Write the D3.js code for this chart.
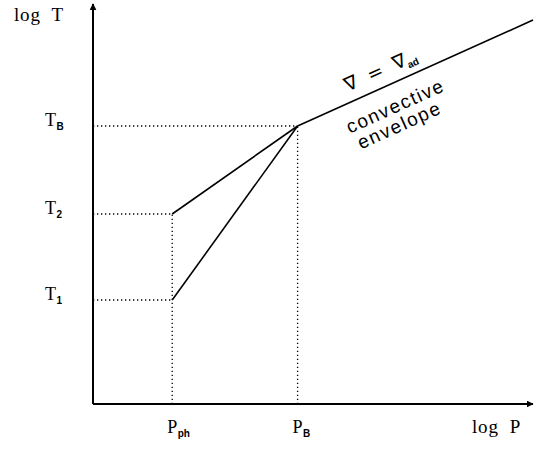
<!DOCTYPE html>
<html>
<head>
<meta charset="utf-8">
<script src="https://cdn.jsdelivr.net/npm/d3@7"></script>
<style>
  body { margin: 0; background: #fff; }
  text { fill: #000; }
  .serif { font-family: "Liberation Serif", "DejaVu Serif", serif; }
  .sans { font-family: "Liberation Sans", Arial, sans-serif; }
</style>
</head>
<body>
<div id="chart"></div>
<script>
// schematic values, in arbitrary log units
var tNames = ["B", "2", "1"];
var tValues = [6.95, 4.75, 2.6];
var pNames = ["ph", "B"];
var pValues = [1.8, 4.65];
// photosphere (P_ph, T) -> base of envelope (P_B, T_B)
var radiative1 = [[1.8, 2.6], [4.65, 6.95]];
var radiative2 = [[1.8, 4.75], [4.65, 6.95]];
// adiabat above the base
var adiabat = [[4.65, 6.95], [10, 9.6]];

var width = 539, height = 451;

var svg = d3.select("#chart").append("svg")
  .attr("width", width)
  .attr("height", height);

var x = d3.scaleLinear().domain([0, 10]).range([93, 533]);
var y = d3.scaleLinear().domain([0, 10]).range([404, 4]);

// arrow heads
var defs = svg.append("defs");
defs.append("marker")
  .attr("id", "arrow")
  .attr("viewBox", "0 0 10 10")
  .attr("refX", 9).attr("refY", 5)
  .attr("markerWidth", 7).attr("markerHeight", 7)
  .attr("markerUnits", "userSpaceOnUse")
  .attr("orient", "auto")
  .append("path")
  .attr("d", "M0,0 L10,5 L0,10 z")
  .attr("fill", "#000");

// axes
svg.append("line")
  .attr("x1", x(0)).attr("y1", y(0))
  .attr("x2", x(0)).attr("y2", y(10))
  .attr("stroke", "#000").attr("stroke-width", 2)
  .attr("marker-end", "url(#arrow)");
svg.append("line")
  .attr("x1", x(0)).attr("y1", y(0))
  .attr("x2", x(10)).attr("y2", y(0))
  .attr("stroke", "#000").attr("stroke-width", 2)
  .attr("marker-end", "url(#arrow)");

// dotted guides
tValues.forEach(function (t, i) {
  var p = i === 0 ? pValues[1] : pValues[0];
  svg.append("line")
    .attr("x1", x(0)).attr("y1", y(t))
    .attr("x2", x(p)).attr("y2", y(t))
    .attr("stroke", "#000").attr("stroke-width", 1.3)
    .attr("stroke-dasharray", "1.3,2.7");
});
pValues.forEach(function (p, i) {
  var t = i === 0 ? tValues[1] : tValues[0];
  svg.append("line")
    .attr("x1", x(p)).attr("y1", y(0))
    .attr("x2", x(p)).attr("y2", y(t))
    .attr("stroke", "#000").attr("stroke-width", 1.3)
    .attr("stroke-dasharray", "1.3,2.7");
});

// lines
var line = d3.line()
  .x(function (d) { return x(d[0]); })
  .y(function (d) { return y(d[1]); });

[radiative1, radiative2, adiabat].forEach(function (d) {
  svg.append("path")
    .attr("d", line(d))
    .attr("fill", "none")
    .attr("stroke", "#000")
    .attr("stroke-width", 1.6);
});

// axis titles
svg.append("text").attr("class", "serif")
  .attr("x", 14).attr("y", 21)
  .attr("font-size", 19).attr("letter-spacing", 0.8)
  .style("white-space", "pre")
  .text("log  T");
svg.append("text").attr("class", "serif")
  .attr("x", 472).attr("y", 433)
  .attr("font-size", 19).attr("letter-spacing", 0.8)
  .style("white-space", "pre")
  .text("log  P");

// tick labels
tValues.forEach(function (t, i) {
  var g = svg.append("text").attr("class", "serif")
    .attr("x", 45).attr("y", y(t))
    .attr("font-size", 18);
  g.append("tspan").text("T");
  g.append("tspan").attr("class", "sans")
    .attr("font-size", 10).attr("font-weight", "bold")
    .attr("dy", 4).attr("dx", 0.5)
    .text(tNames[i]);
});
pValues.forEach(function (p, i) {
  var g = svg.append("text").attr("class", "serif")
    .attr("x", x(p) - 5).attr("y", 433)
    .attr("font-size", 18);
  g.append("tspan").text("P");
  g.append("tspan").attr("class", "sans")
    .attr("font-size", 10).attr("font-weight", "bold")
    .attr("dy", 4).attr("dx", 0.5)
    .text(pNames[i]);
});

// labels along the adiabat
var angle = Math.atan2(y(adiabat[1][1]) - y(adiabat[0][1]), x(adiabat[1][0]) - x(adiabat[0][0])) * 180 / Math.PI;

function rotated(cx, cy) {
  return svg.append("text")
    .attr("class", "sans")
    .attr("text-anchor", "middle")
    .attr("transform", "translate(" + cx + "," + cy + ") rotate(" + angle + ")");
}

var nab = rotated(383, 76).attr("font-size", 19).style("white-space", "pre");
nab.append("tspan").attr("font-family", "DejaVu Sans").text("\u2207  =  \u2207");
nab.append("tspan").attr("font-size", 10).attr("font-weight", "bold").attr("dy", 4).text("ad");

rotated(398, 112).attr("font-size", 19).attr("letter-spacing", 1.6).text("convective");
rotated(402, 131).attr("font-size", 19).attr("letter-spacing", 1.6).text("envelope");
</script>
</body>
</html>
